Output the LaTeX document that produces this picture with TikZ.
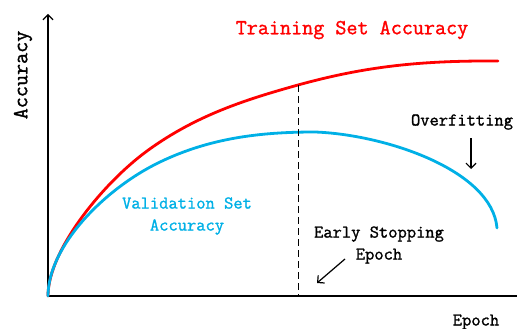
\documentclass[tikz,border=0pt]{standalone}
\usepackage{fontspec}
\newfontfamily\monob{Latin Modern Mono}[FakeBold=1.3]
\usetikzlibrary{arrows.meta}
\definecolor{redc}{RGB}{255,0,0}
\definecolor{bluec}{RGB}{0,176,230}
\begin{document}
\begin{tikzpicture}[x=1pt,y=-1pt,
  lbl/.style={font=\monob\fontsize{18}{22}\selectfont, inner sep=0pt, align=center},
  big/.style={font=\monob\fontsize{21.5}{24}\selectfont, inner sep=0pt},
  axis/.style={line width=2pt},
  curve/.style={line width=2.8pt, line cap=round},
  barb/.style={-{Straight Barb[length=5pt,width=10pt,line width=1.2pt]}}
]
\useasboundingbox (0,0) rectangle (517,329);
% axes
\coordinate (O) at (48,296);
\coordinate (ytop) at (48,14);
\coordinate (xend) at (517,296);
\draw[axis] (xend) -- (O);
\draw[axis,barb] (O) -- (ytop);
% training curve
\coordinate (r1) at (147,151);
\coordinate (r2) at (298,85);
\coordinate (r3) at (498,61);
\draw[curve,redc] (O) .. controls (48,251) and (102,184) .. (r1)
  .. controls (197,114.5) and (248,99) .. (r2)
  .. controls (365,66.5) and (420,60.5) .. (r3);
% validation curve
\coordinate (b1) at (160,162);
\coordinate (b2) at (315,132);
\coordinate (b3) at (497,228);
\draw[curve,bluec] (O) .. controls (48,246) and (105,188.4) .. (b1)
  .. controls (210,138) and (260,132) .. (b2)
  .. controls (385,134.5) and (492,170) .. (b3);
% dashed early stopping
\coordinate (dbot) at (298,296);
\draw[line width=1pt,dash pattern=on 7pt off 4pt] (r2) -- (dbot);
% labels
\node[big,text=redc] (train) at (352,30) {Training Set Accuracy};
\node[big,rotate=90] (acc) at (23,75) {Accuracy};
\node[lbl,text=bluec] (val) at (187,216) {Validation Set\\Accuracy};
\node[lbl] (over) at (462,122) {Overfitting};
\node[lbl] (early) at (379,245) {Early Stopping\\Epoch};
\node[lbl] (ep) at (476,322) {Epoch};
% arrows
\coordinate (ofs) at (471,138);
\coordinate (ofe) at (471,169);
\draw[line width=1.2pt,barb] (ofs) -- (ofe);
\coordinate (ess) at (345,259);
\coordinate (ese) at (317,283);
\draw[line width=1.2pt,barb] (ess) -- (ese);
\end{tikzpicture}
\end{document}
